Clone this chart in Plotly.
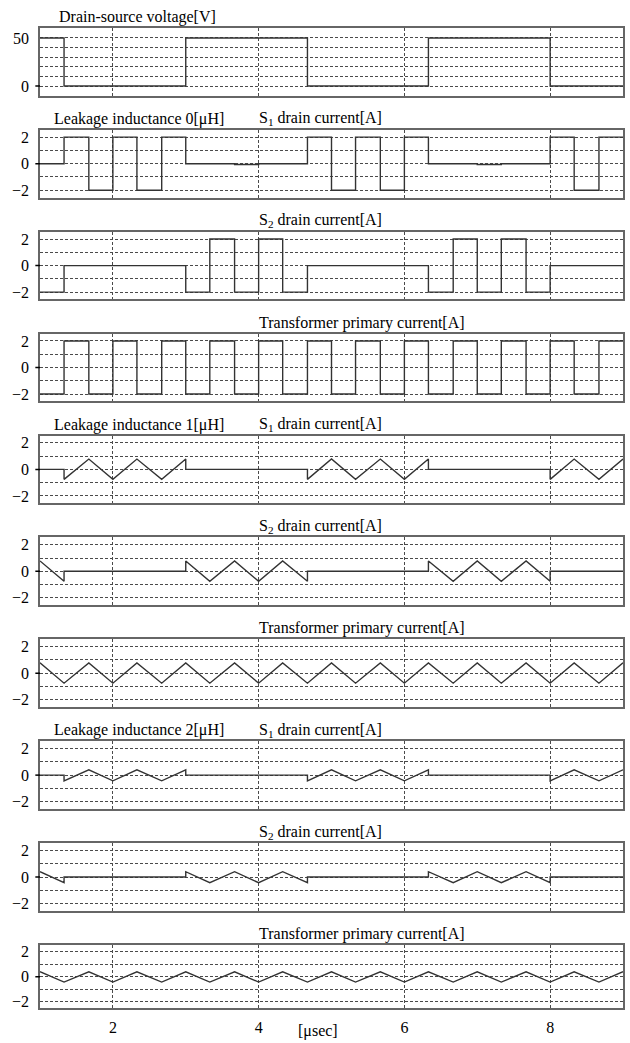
import plotly.graph_objects as go

# ---------------- data ----------------
vds_t = [1.0, 1.33, 3.0, 4.67, 6.33, 8.0, 9.0]
vds_v = [50, 0, 50, 0, 50, 0, 0]

s1_l0_t = [1.0, 1.33, 1.67, 2.0, 2.33, 2.67, 3.0, 3.67, 4.0, 4.67, 5.0, 5.33, 5.67, 6.0, 6.33, 7.0, 7.33, 8.0, 8.33, 8.67, 9.0]
s1_l0_v = [0, 2, -2, 2, -2, 2, 0, -0.06, 0, 2, -2, 2, -2, 2, 0, -0.06, 0, 2, -2, 2, 2]

s2_l0_t = [1.0, 1.33, 3.0, 3.33, 3.67, 4.0, 4.33, 4.67, 6.33, 6.67, 7.0, 7.33, 7.67, 8.0, 9.0]
s2_l0_v = [-2, 0, -2, 2, -2, 2, -2, 0, -2, 2, -2, 2, -2, 0, 0]

tp_t = [1.0, 1.33, 1.67, 2.0, 2.33, 2.67, 3.0, 3.33, 3.67, 4.0, 4.33, 4.67, 5.0,
        5.33, 5.67, 6.0, 6.33, 6.67, 7.0, 7.33, 7.67, 8.0, 8.33, 8.67, 9.0]
tp_l0_v = [-2, 2, -2, 2, -2, 2, -2, 2, -2, 2, -2, 2, -2, 2, -2, 2, -2, 2, -2, 2, -2, 2, -2, 2, 2]

s1_tri_t = [1.0, 1.33, 1.33, 1.67, 2.0, 2.33, 2.67, 3.0, 3.0, 4.67, 4.67, 5.0, 5.33,
            5.67, 6.0, 6.33, 6.33, 8.0, 8.0, 8.33, 8.67, 9.0]
s1_l1_v = [0, 0, -0.75, 0.78, -0.75, 0.78, -0.75, 0.78, 0, 0, -0.75, 0.78, -0.75,
           0.78, -0.75, 0.78, 0, 0, -0.75, 0.78, -0.75, 0.78]
s1_l2_v = [0, 0, -0.43, 0.4, -0.43, 0.4, -0.43, 0.4, 0, 0, -0.43, 0.4, -0.43,
           0.4, -0.43, 0.4, 0, 0, -0.43, 0.4, -0.43, 0.4]

s2_tri_t = [1.0, 1.33, 1.33, 3.0, 3.0, 3.33, 3.67, 4.0, 4.33, 4.67, 4.67, 6.33, 6.33,
            6.67, 7.0, 7.33, 7.67, 8.0, 8.0, 9.0]
s2_l1_v = [0.78, -0.75, 0, 0, 0.78, -0.75, 0.78, -0.75, 0.78, -0.75, 0, 0, 0.78,
           -0.75, 0.78, -0.75, 0.78, -0.75, 0, 0]
s2_l2_v = [0.4, -0.43, 0, 0, 0.4, -0.43, 0.4, -0.43, 0.4, -0.43, 0, 0, 0.4,
           -0.43, 0.4, -0.43, 0.4, -0.43, 0, 0]

tp_l1_v = [0.78, -0.75, 0.78, -0.75, 0.78, -0.75, 0.78, -0.75, 0.78, -0.75, 0.78, -0.75, 0.78,
           -0.75, 0.78, -0.75, 0.78, -0.75, 0.78, -0.75, 0.78, -0.75, 0.78, -0.75, 0.78]
tp_l2_v = [0.4, -0.43, 0.4, -0.43, 0.4, -0.43, 0.4, -0.43, 0.4, -0.43, 0.4, -0.43, 0.4,
           -0.43, 0.4, -0.43, 0.4, -0.43, 0.4, -0.43, 0.4, -0.43, 0.4, -0.43, 0.4]

x_ticks = [2, 4, 6, 8]
x_label = "[μsec]"
v_ticks = [0, 50]
i_ticks = [-2, 0, 2]

left_titles = ["Drain-source voltage[V]", "Leakage inductance 0[μH]", "", "",
               "Leakage inductance 1[μH]", "", "", "Leakage inductance 2[μH]", "", ""]
right_titles = ["", "S<sub>1</sub> drain current[A]", "S<sub>2</sub> drain current[A]",
                "Transformer primary current[A]",
                "S<sub>1</sub> drain current[A]", "S<sub>2</sub> drain current[A]",
                "Transformer primary current[A]",
                "S<sub>1</sub> drain current[A]", "S<sub>2</sub> drain current[A]",
                "Transformer primary current[A]"]

panels = [
    (vds_t, vds_v, "hv"),
    (s1_l0_t, s1_l0_v, "hv"),
    (s2_l0_t, s2_l0_v, "hv"),
    (tp_t, tp_l0_v, "hv"),
    (s1_tri_t, s1_l1_v, "linear"),
    (s2_tri_t, s2_l1_v, "linear"),
    (tp_t, tp_l1_v, "linear"),
    (s1_tri_t, s1_l2_v, "linear"),
    (s2_tri_t, s2_l2_v, "linear"),
    (tp_t, tp_l2_v, "linear"),
]

# ---------------- layout ----------------
W, H = 630, 1043
X0, X1 = 40, 623
FONT = "Liberation Serif, Times New Roman, serif"
GRID = "#4a4a4a"
BOX = "#666666"

fig = go.Figure()
layout = dict(
    width=W, height=H, margin=dict(l=0, r=0, t=0, b=0),
    paper_bgcolor="white", plot_bgcolor="white", showlegend=False,
    font=dict(family=FONT, size=16, color="black"),
)
annotations = []
shapes = []

for i, (tx, vy, shp) in enumerate(panels):
    top = 26 + 102.3 * i
    h = 68 if i < 9 else 63.5
    bot = top + h
    n = "" if i == 0 else str(i + 1)
    xa, ya = "x" + n, "y" + n
    fig.add_trace(go.Scatter(x=tx, y=vy, mode="lines", line=dict(color="#333333", width=1.4, shape=shp),
                             xaxis=xa, yaxis=ya, hoverinfo="skip"))
    last = (i == 9)
    layout["xaxis" + n] = dict(
        domain=[X0 / W, X1 / W], range=[1, 9], anchor=ya, matches=None if i == 0 else "x",
        tickvals=x_ticks, showticklabels=last, ticks="outside" if last else "", ticklen=4,
        tickcolor="rgba(0,0,0,0)",
        showgrid=True, gridcolor=GRID, gridwidth=1, griddash="3px,2px", zeroline=False,
        showline=True, mirror=True, linecolor=BOX, linewidth=1.5,
        tickfont=dict(family=FONT, size=16),
    )
    if i == 0:
        yr, tv, md = [-10, 60.5], v_ticks, 10
    else:
        yr, tv, md = [-2.55, 2.55], i_ticks, 1
    layout["yaxis" + n] = dict(
        domain=[1 - bot / H, 1 - top / H], range=yr, anchor=xa,
        tickvals=tv, ticks="outside", ticklen=6, tickcolor="rgba(0,0,0,0)",
        showgrid=True, gridcolor=GRID, gridwidth=1, griddash="3px,2px", zeroline=False,
        minor=dict(dtick=md, tick0=0, showgrid=True, gridcolor=GRID, gridwidth=1,
                   griddash="3px,2px", ticks=""),
        showline=True, mirror=True, linecolor=BOX, linewidth=1.5,
        tickfont=dict(family=FONT, size=16),
    )
    # short zero marker tick
    shapes.append(dict(type="line", xref=xa + " domain", yref=ya, x0=-0.008, x1=0, y0=0, y1=0,
                       line=dict(color="black", width=1.5)))
    ty = 1 - (top - 11) / H
    if left_titles[i]:
        annotations.append(dict(text=left_titles[i], xref="paper", yref="paper",
                                x=(57 if i == 0 else 52) / W, y=ty, xanchor="left", yanchor="middle",
                                showarrow=False, font=dict(family=FONT, size=16)))
    if right_titles[i]:
        annotations.append(dict(text=right_titles[i], xref="paper", yref="paper",
                                x=257 / W, y=ty, xanchor="left", yanchor="middle",
                                showarrow=False, font=dict(family=FONT, size=16)))

annotations.append(dict(text=x_label, xref="paper", yref="paper", x=318 / W, y=1 - 1033 / H,
                        xanchor="center", yanchor="middle", showarrow=False,
                        font=dict(family=FONT, size=16)))

layout["annotations"] = annotations
layout["shapes"] = shapes
fig.update_layout(**layout)
fig.write_html("out.html")
